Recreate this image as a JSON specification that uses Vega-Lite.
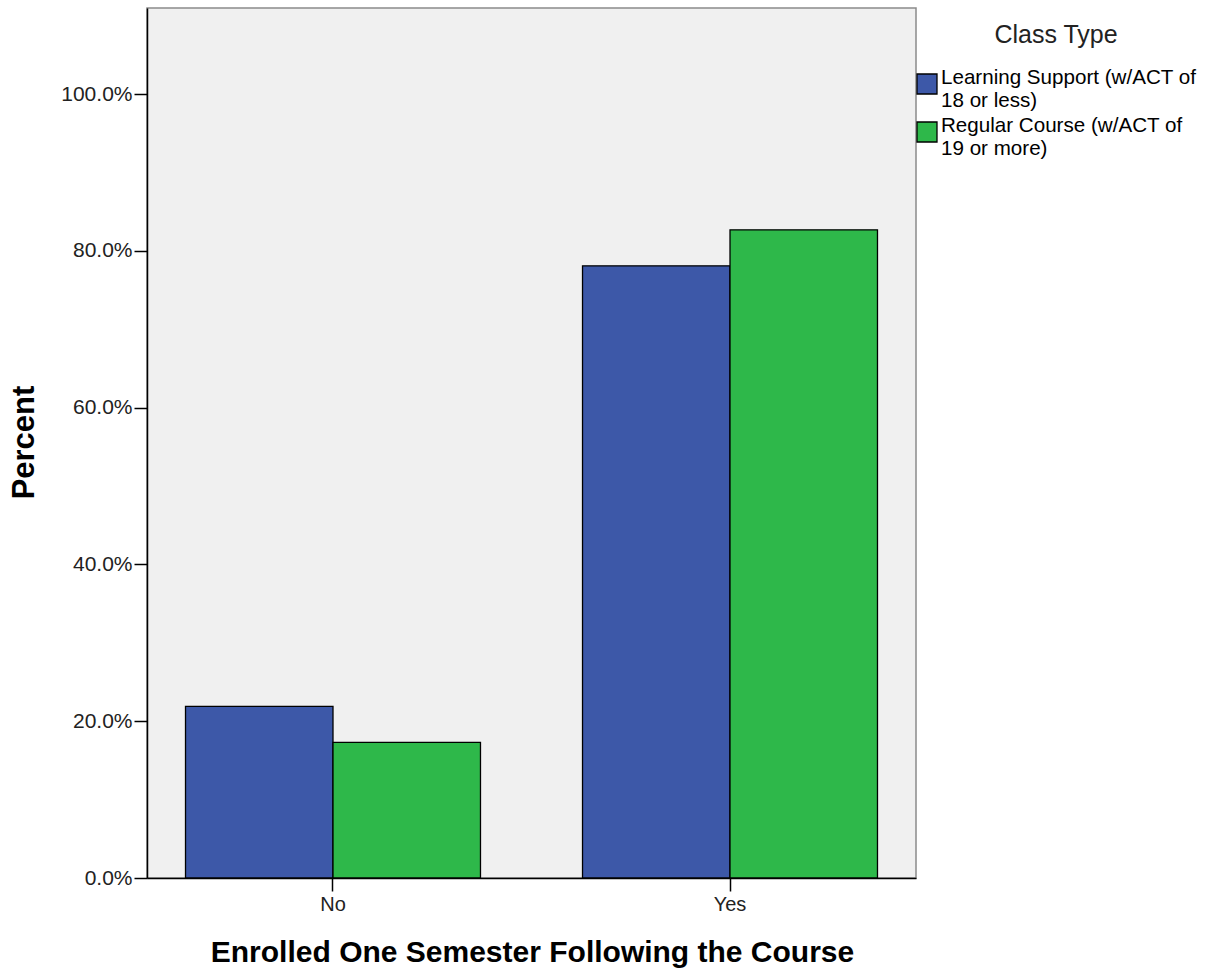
{
  "$schema": "https://vega.github.io/schema/vega-lite/v6.json",
  "autosize": {"type": "none"},
  "padding": {"left": 147, "top": 8, "right": 310, "bottom": 92},
  "width": 769,
  "height": 870,
  "background": "white",
  "config": {
    "font": "Liberation Sans",
    "view": {"fill": "#f0f0f0", "stroke": "#8a8a8a", "strokeWidth": 1.5},
    "axis": {"grid": false, "domainColor": "black", "tickColor": "black", "labelColor": "#222", "titleColor": "black"}
  },
  "data": {
    "values": [
      {"enrolled": "No", "classType": "Learning Support (w/ACT of 18 or less)", "percent": 0.219},
      {"enrolled": "No", "classType": "Regular Course (w/ACT of 19 or more)", "percent": 0.173},
      {"enrolled": "Yes", "classType": "Learning Support (w/ACT of 18 or less)", "percent": 0.781},
      {"enrolled": "Yes", "classType": "Regular Course (w/ACT of 19 or more)", "percent": 0.827}
    ]
  },
  "mark": {"type": "bar", "stroke": "black", "strokeWidth": 1.3},
  "encoding": {
    "x": {
      "field": "enrolled",
      "type": "nominal",
      "scale": {"paddingInner": 0.257, "paddingOuter": 0.097},
      "axis": {
        "title": "Enrolled One Semester Following the Course",
        "labelAngle": 0,
        "labelFontSize": 20,
        "labelPadding": 3,
        "tickSize": 13,
        "tickWidth": 1.5,
        "domainWidth": 1.5,
        "titleFontSize": 30,
        "titleFontWeight": "bold",
        "titleX": 385,
        "titleY": 74,
        "titleBaseline": "middle",
        "titleAlign": "center"
      }
    },
    "xOffset": {"field": "classType", "type": "nominal", "scale": {"paddingInner": 0, "paddingOuter": 0}},
    "y": {
      "field": "percent",
      "type": "quantitative",
      "scale": {"domain": [0, 1.11], "nice": false},
      "axis": {
        "title": "Percent",
        "values": [0, 0.2, 0.4, 0.6, 0.8, 1.0],
        "format": ".1%",
        "labelFontSize": 21,
        "labelPadding": 2,
        "tickSize": 13,
        "tickWidth": 1.5,
        "domainWidth": 1.5,
        "titleFontSize": 31,
        "titleFontWeight": "bold",
        "titleAngle": -90,
        "titleX": -123,
        "titleY": 434,
        "titleBaseline": "middle",
        "titleAlign": "center"
      }
    },
    "color": {
      "field": "classType",
      "type": "nominal",
      "scale": {"range": ["#3d58a8", "#2eb84a"]},
      "legend": {
        "title": "Class Type",
        "orient": "none",
        "legendX": 769,
        "legendY": 15,
        "titleFontSize": 25,
        "titleFontWeight": "normal",
        "titleColor": "#222",
        "titleAnchor": "middle",
        "titlePadding": 25,
        "symbolType": "square",
        "symbolSize": 400,
        "symbolStrokeColor": "black",
        "symbolStrokeWidth": 1.3,
        "symbolOpacity": 1,
        "labelFontSize": 20.6,
        "labelLineHeight": 19,
        "labelBaseline": "alphabetic",
        "labelColor": "black",
        "labelOffset": 3,
        "labelLimit": 400,
        "rowPadding": 4,
        "labelExpr": "split(replace(datum.label, ' of ', ' of|'), '|')"
      }
    }
  }
}
